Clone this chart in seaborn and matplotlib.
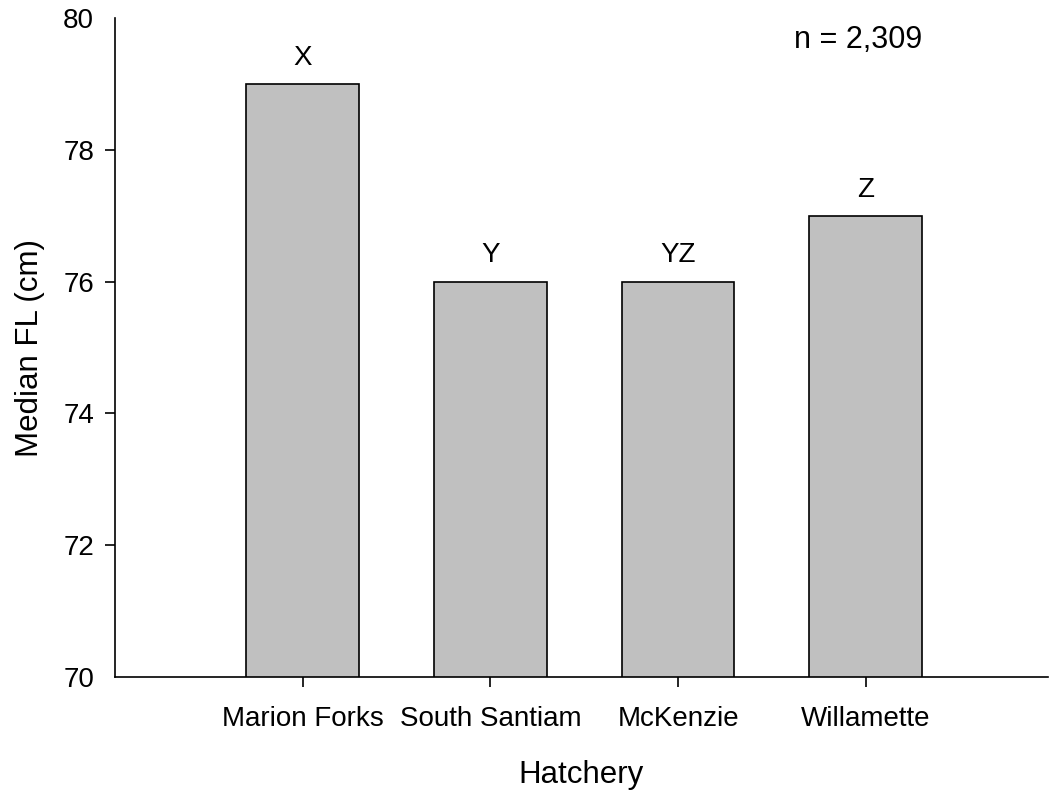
import matplotlib
matplotlib.use("Agg")
import matplotlib.pyplot as plt
import seaborn as sns
import pandas as pd

# Data
hatcheries = ["Marion Forks", "South Santiam", "McKenzie", "Willamette"]
median_fl = [79, 76, 76, 77]
group_letters = ["X", "Y", "YZ", "Z"]
sample_note = "n = 2,309"

sns.set_theme(style="ticks", rc={
    "text.color": "black",
    "axes.labelcolor": "black",
    "xtick.color": "black",
    "ytick.color": "black",
    "axes.edgecolor": "black",
})
plt.rcParams["font.family"] = ["Liberation Sans", "DejaVu Sans"]

df = pd.DataFrame({"Hatchery": hatcheries, "Median FL (cm)": median_fl})

fig = plt.figure(figsize=(10.51, 7.93), dpi=100)
ax = fig.add_axes([0.1094, 0.1463, 0.8876, 0.8307])

sns.barplot(
    data=df, x="Hatchery", y="Median FL (cm)", ax=ax,
    color="#c0c0c0", edgecolor="black", linewidth=1.2, width=0.6,
    saturation=1,
)
ax.set_ylim(70, 80)
ax.set_xlim(-1, 3.97)
ax.set_yticks(range(70, 81, 2))

# significance letters above bars
for i, (val, lab) in enumerate(zip(median_fl, group_letters)):
    ax.text(i, val + 0.4, lab, ha="center", va="center", fontsize=20)

ax.text(0.797, 0.967, sample_note, transform=ax.transAxes,
        ha="center", va="center", fontsize=22)

ax.tick_params(axis="y", length=7, width=1.2, direction="out",
               labelsize=20, pad=8)
ax.tick_params(axis="x", length=7, width=1.2, direction="out",
               labelsize=20, pad=14)
# no tick marks at the two ends of the y axis
yticks = ax.yaxis.get_major_ticks()
yticks[0].tick1line.set_visible(False)
yticks[-1].tick1line.set_visible(False)

ax.set_xlabel("Hatchery", fontsize=22.5, labelpad=20)
ax.set_ylabel("Median FL (cm)", fontsize=22.5, labelpad=13)
for side in ["top", "right"]:
    ax.spines[side].set_visible(False)
for side in ["left", "bottom"]:
    ax.spines[side].set_linewidth(1.2)

fig.savefig("out.png", dpi=100)
